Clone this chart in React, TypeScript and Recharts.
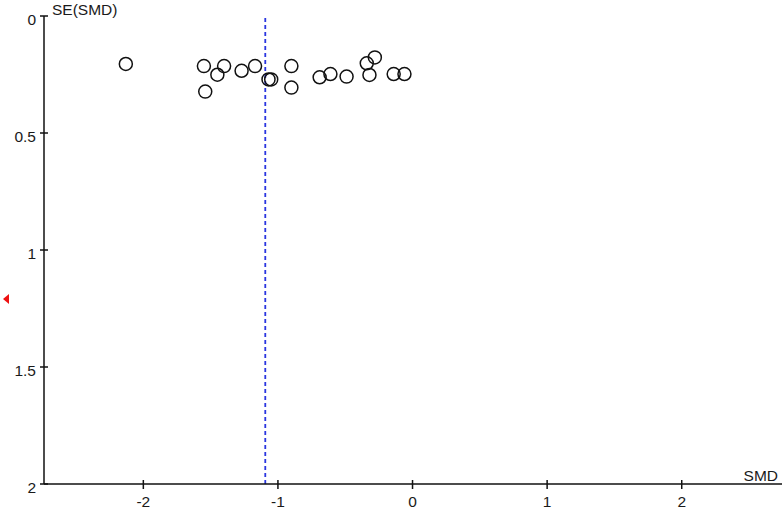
import React from 'react';
import {
  ScatterChart,
  Scatter,
  XAxis,
  YAxis,
  ReferenceLine,
  ReferenceDot,
} from 'recharts';

// study points
const smd = [
  -2.13, -1.55, -1.54, -1.45, -1.4, -1.27, -1.17, -1.07, -1.05, -0.9,
  -0.9, -0.69, -0.61, -0.49, -0.34, -0.28, -0.32, -0.14, -0.06,
];
const seSmd = [
  0.205, 0.214, 0.323, 0.251, 0.214, 0.234, 0.214, 0.271, 0.271, 0.214,
  0.306, 0.262, 0.248, 0.259, 0.202, 0.177, 0.252, 0.248, 0.248,
];

const pooledSmd = -1.094;
const markerSe = 1.209;

const xTicks = [-2, -1, 0, 1, 2];
const yTicks = [0, 0.5, 1, 1.5, 2];

const points = smd.map((x, i) => ({ x, y: seSmd[i] }));

const FONT = '"Liberation Sans", Arial, sans-serif';
const TEXT = '#1a1a1a';

function XTick({ x, y, payload }: any) {
  return (
    <g>
      <line x1={x} x2={x} y1={y - 4} y2={y + 5} stroke="#111" strokeWidth={1.5} />
      <text x={x} y={y + 23} textAnchor="middle" fontSize={15.5} fill={TEXT} fontFamily={FONT}>
        {payload.value}
      </text>
    </g>
  );
}

function YTick({ x, y, payload }: any) {
  return (
    <g>
      <line x1={x - 4} x2={x + 4} y1={y} y2={y} stroke="#111" strokeWidth={1.5} />
      <text x={x - 8} y={y + 9} textAnchor="end" fontSize={15.5} fill={TEXT} fontFamily={FONT}>
        {payload.value}
      </text>
    </g>
  );
}

function Ring({ cx, cy }: any) {
  return <circle cx={cx} cy={cy} r={6.5} fill="none" stroke="#111" strokeWidth={1.5} />;
}

function LeftArrow({ cx, cy }: any) {
  const tx = cx - 41;
  return <path d={`M${tx},${cy} L${tx + 6},${cy - 5} L${tx + 6},${cy + 5} Z`} fill="#ee1111" />;
}

export default function App() {
  return (
    <div style={{ position: 'absolute', left: 0, top: 0, background: '#fff' }}>
      <ScatterChart
        width={782}
        height={509}
        margin={{ top: 16, right: 0, left: 0, bottom: 0 }}
      >
        <XAxis
          type="number"
          dataKey="x"
          domain={[-2.738, 2.745]}
          ticks={xTicks}
          height={25}
          tickSize={0}
          tickMargin={0}
          tickLine={false}
          tick={<XTick />}
          axisLine={{ stroke: '#111', strokeWidth: 1.5 }}
          allowDataOverflow
        />
        <YAxis
          type="number"
          dataKey="y"
          reversed
          domain={[0, 2]}
          ticks={yTicks}
          width={44}
          tickSize={0}
          tickMargin={0}
          tickLine={false}
          tick={<YTick />}
          axisLine={{ stroke: '#111', strokeWidth: 1.5 }}
        />
        <ReferenceLine
          x={pooledSmd}
          stroke="#2a36e0"
          strokeWidth={1.8}
          strokeDasharray="4 3"
        />
        <Scatter data={points} shape={<Ring />} isAnimationActive={false} />
        <ReferenceDot
          x={-2.738}
          y={markerSe}
          ifOverflow="visible"
          shape={<LeftArrow />}
        />
        <text x={52} y={15} fontSize={15.5} fill={TEXT} fontFamily={FONT}>
          SE(SMD)
        </text>
        <text x={778} y={481} textAnchor="end" fontSize={15.5} fill={TEXT} fontFamily={FONT}>
          SMD
        </text>
      </ScatterChart>
    </div>
  );
}
